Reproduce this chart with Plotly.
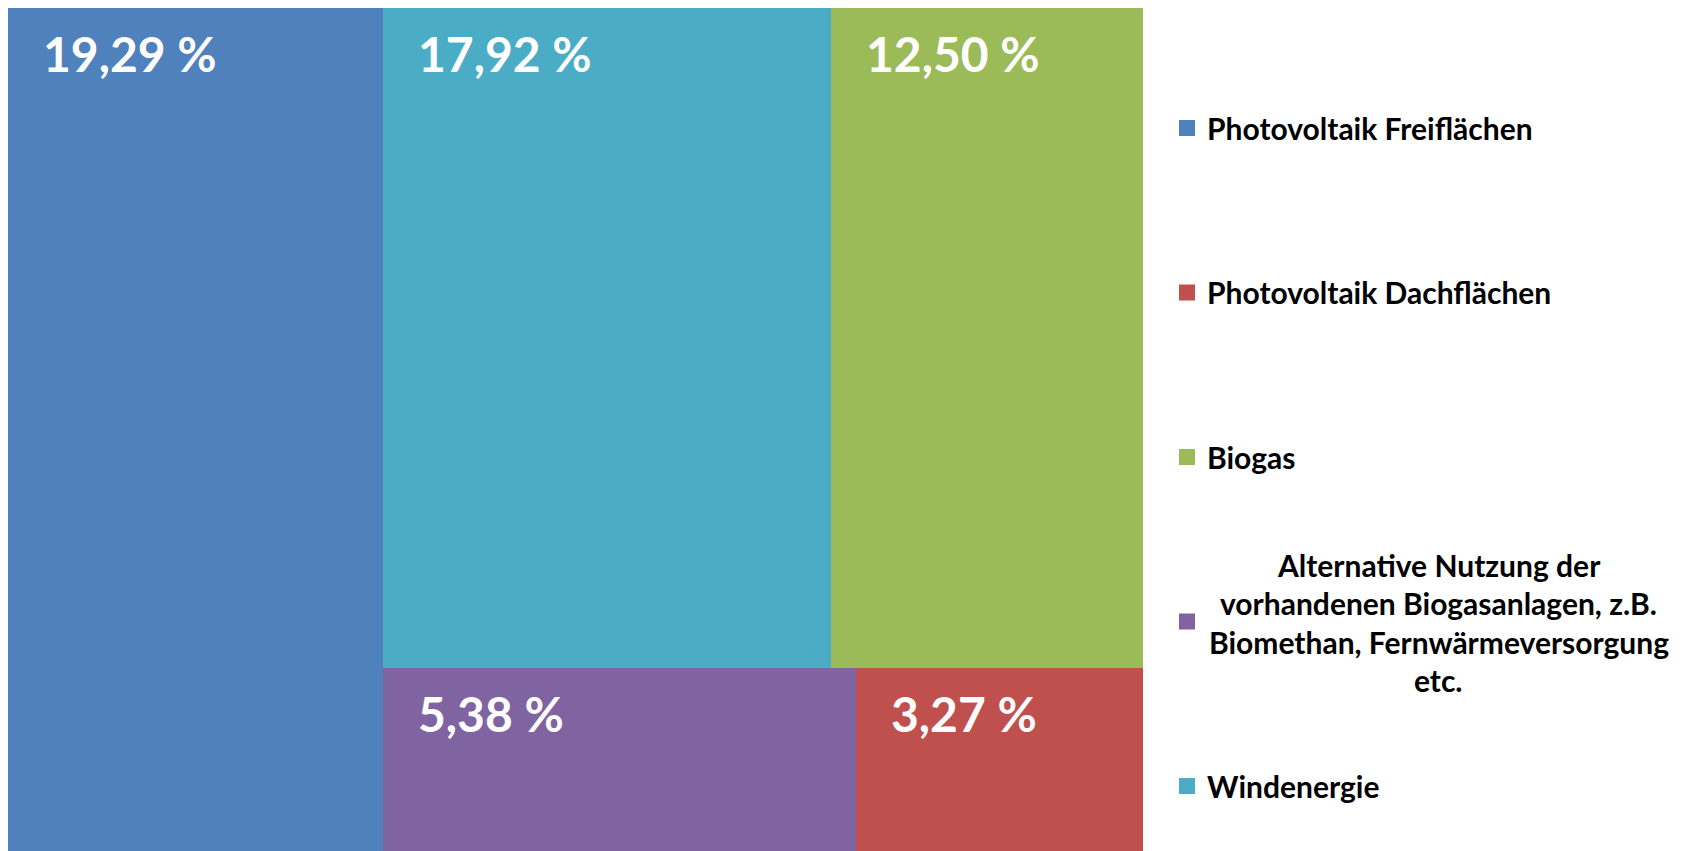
import plotly.graph_objects as go

# legend order as in the reference
labels = [
    "Photovoltaik Freiflächen",
    "Photovoltaik Dachflächen",
    "Biogas",
    "Alternative Nutzung der vorhandenen Biogasanlagen, z.B. Biomethan, Fernwärmeversorgung etc.",
    "Windenergie",
]
values = [19.29, 3.27, 12.50, 5.38, 17.92]
colors = ["#4F81BD", "#C0504D", "#9BBB59", "#8064A2", "#4BACC6"]
long_label_lines = ["Alternative Nutzung der", "vorhandenen Biogasanlagen, z.B.",
                    "Biomethan, Fernwärmeversorgung", "etc."]

# the page has an 8px body margin, so the figure starts at (8, 8);
# the plot runs a few px past the bottom of the window
W, H = 1676, 848
pw, ph = 1135, 848
ml, mt = 0, 0
mr, mb = W - pw - ml, H - ph - mt
PX0, PY1 = 8, 856  # page coords of plot left and plot bottom


def px_x(x):
    return (x - PX0) / pw


def px_y(y):
    return (PY1 - y) / ph


# simple treemap layout: biggest as a column, then two rows of two
order = sorted(range(len(values)), key=lambda i: -values[i])
total = sum(values)
rects = {}
first = order[0]
xb = values[first] / total
rects[first] = (0, xb, 0, 1)
top = order[1:3]
bot = order[3:5]
top_sum = sum(values[i] for i in top)
bot_sum = sum(values[i] for i in bot)
yb = bot_sum / (top_sum + bot_sum)
x = xb
for i in top:
    w = (1 - xb) * values[i] / top_sum
    rects[i] = (x, x + w, yb, 1)
    x += w
x = xb
for i in bot:
    w = (1 - xb) * values[i] / bot_sum
    rects[i] = (x, x + w, 0, yb)
    x += w

fig = go.Figure()
legend_names = ["legend"] + ["legend%d" % k for k in range(2, len(labels) + 1)]
for i in range(len(labels)):
    x0, x1, y0, y1 = rects[i]
    fig.add_trace(go.Bar(
        x=[(x0 + x1) / 2], y=[y1 - y0], base=[y0], width=[x1 - x0],
        marker=dict(color=colors[i], line=dict(width=0)),
        name=labels[i], showlegend=False,
        hovertemplate=labels[i] + ": %{customdata}<extra></extra>",
        customdata=[f"{values[i]:.2f} %"],
    ))
    fig.add_annotation(
        x=x0, y=y1, xref="x", yref="y", xanchor="left", yanchor="middle",
        xshift=33, yshift=-45, showarrow=False,
        text=f"{values[i]:.2f}".replace(".", ",") + " %",
        font=dict(family="Lato", size=48, color="white", weight=700),
    )
    # legend entry with a bigger square symbol
    fig.add_trace(go.Scatter(
        x=[None], y=[None], mode="markers",
        marker=dict(symbol="square", size=16, color=colors[i]),
        name=labels[i] if i != 3 else " ", legend=legend_names[i],
        showlegend=True, hoverinfo="skip",
    ))

layout_legends = {}
for k, ln in enumerate(legend_names):
    ypx = 128 + k * 164.5
    layout_legends[ln] = dict(
        x=px_x(1167), y=px_y(ypx), xanchor="left", yanchor="middle",
        bgcolor="rgba(0,0,0,0)", borderwidth=0,
        font=dict(family="Lato", size=30, color="black", weight=700),
    )

# centred multi-line text for the long legend entry
for j, line in enumerate(long_label_lines):
    ypx = 565 + j * 38.4
    fig.add_annotation(
        x=px_x(1439), y=px_y(ypx), xref="paper", yref="paper",
        xanchor="center", yanchor="middle", showarrow=False, text=line,
        font=dict(family="Lato", size=30, color="black", weight=700),
    )

fig.update_layout(
    width=W, height=H, barmode="overlay", bargap=0, showlegend=True,
    margin=dict(l=ml, r=mr, t=mt, b=mb),
    paper_bgcolor="white", plot_bgcolor="white",
    xaxis=dict(range=[0, 1], visible=False, fixedrange=True),
    yaxis=dict(range=[0, 1], visible=False, fixedrange=True),
    **layout_legends,
)
fig.write_html("out.html")
